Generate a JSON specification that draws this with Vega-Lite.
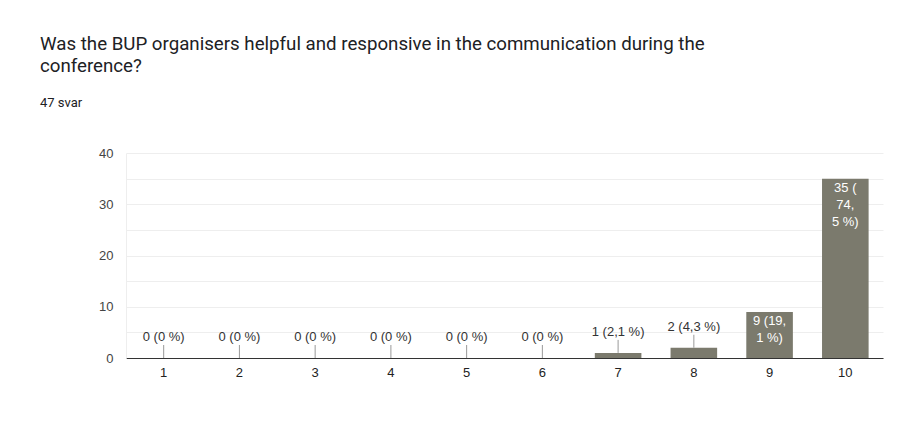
{
  "$schema": "https://vega.github.io/schema/vega-lite/v6.json",
  "autosize": "none",
  "width": 757,
  "height": 205,
  "padding": {"left": 126, "top": 153, "right": 16, "bottom": 82},
  "background": "white",
  "title": {
    "text": ["Was the BUP organisers helpful and responsive in the communication during the", "conference?"],
    "subtitle": "47 svar",
    "anchor": "start",
    "frame": "group",
    "dx": -86,
    "offset": 37,
    "font": "Roboto",
    "fontSize": 18.7,
    "fontWeight": "normal",
    "color": "#202124",
    "lineHeight": 22,
    "subtitleFont": "Roboto",
    "subtitleFontSize": 13,
    "subtitleColor": "#202124",
    "subtitlePadding": 21
  },
  "data": {
    "values": [
      {"score": "1", "count": 0, "label": "0 (0 %)", "inside": false},
      {"score": "2", "count": 0, "label": "0 (0 %)", "inside": false},
      {"score": "3", "count": 0, "label": "0 (0 %)", "inside": false},
      {"score": "4", "count": 0, "label": "0 (0 %)", "inside": false},
      {"score": "5", "count": 0, "label": "0 (0 %)", "inside": false},
      {"score": "6", "count": 0, "label": "0 (0 %)", "inside": false},
      {"score": "7", "count": 1, "label": "1 (2,1 %)", "inside": false},
      {"score": "8", "count": 2, "label": "2 (4,3 %)", "inside": false},
      {"score": "9", "count": 9, "label": "9 (19,|1 %)", "inside": true},
      {"score": "10", "count": 35, "label": "35 (|74,|5 %)", "inside": true}
    ]
  },
  "encoding": {
    "x": {
      "field": "score",
      "type": "ordinal",
      "sort": null,
      "scale": {"paddingInner": 0.385, "paddingOuter": 0.19},
      "axis": {
        "title": null,
        "labelAngle": 0,
        "ticks": false,
        "labelPadding": 8,
        "labelFont": "Liberation Sans",
        "labelFontSize": 13,
        "labelColor": "#222222",
        "domainColor": "#333333",
        "domainWidth": 1
      }
    },
    "y": {
      "field": "count",
      "type": "quantitative",
      "scale": {"domain": [0, 40], "nice": false},
      "axis": {
        "title": null,
        "values": [0, 5, 10, 15, 20, 25, 30, 35, 40],
        "labelExpr": "datum.value % 10 === 0 ? datum.label : ''",
        "ticks": false,
        "labelPadding": 13,
        "labelFont": "Liberation Sans",
        "labelFontSize": 13,
        "labelColor": "#444444",
        "domainColor": "#eeeeee",
        "gridColor": "#eeeeee",
        "gridWidth": 1
      }
    }
  },
  "layer": [
    {
      "mark": {"type": "bar", "color": "#7b7a6d"}
    },
    {
      "transform": [{"filter": "!datum.inside"}],
      "mark": {"type": "rule", "color": "#999999", "strokeWidth": 1, "y2Offset": -13},
      "encoding": {
        "y2": {"field": "count"}
      }
    },
    {
      "transform": [{"filter": "!datum.inside"}],
      "mark": {
        "type": "text",
        "baseline": "middle",
        "dy": -21,
        "font": "Liberation Sans",
        "fontSize": 13,
        "color": "#333333"
      },
      "encoding": {"text": {"field": "label"}}
    },
    {
      "transform": [{"filter": "datum.inside"}],
      "mark": {
        "type": "text",
        "baseline": "top",
        "dy": 3,
        "lineBreak": "|",
        "lineHeight": 17,
        "font": "Liberation Sans",
        "fontSize": 13,
        "color": "#ffffff"
      },
      "encoding": {"text": {"field": "label"}}
    }
  ],
  "config": {"view": {"stroke": null}}
}
